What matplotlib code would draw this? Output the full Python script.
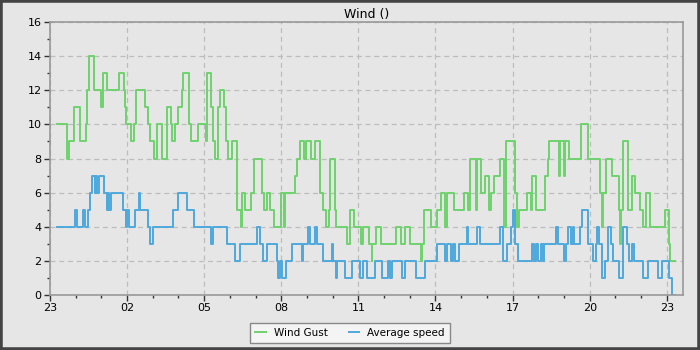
import matplotlib
matplotlib.use("Agg")
import matplotlib.pyplot as plt
import matplotlib.dates as mdates
from matplotlib.patches import Rectangle
import pandas as pd

# Hours after 23:00 at which each reading changes, with the new value (m/s)
gust_hours = [0.27, 0.66, 0.74, 0.93, 1.17, 1.40, 1.45, 1.51, 1.70, 1.98, 2.06, 2.23, 2.67, 2.87,
              2.91, 2.95, 3.16, 3.27, 3.33, 3.68, 3.81, 3.88, 4.05, 4.18, 4.35, 4.37, 4.55, 4.71,
              4.75, 4.86, 4.99, 5.12, 5.19, 5.41, 5.49, 5.77, 6.06, 6.11, 6.26, 6.34, 6.42, 6.53,
              6.61, 6.78, 6.85, 6.91, 7.09, 7.28, 7.43, 7.48, 7.59, 7.82, 7.95, 8.24, 8.31, 8.46,
              8.55, 8.70, 8.97, 9.10, 9.16, 9.55, 9.61, 9.74, 9.90, 9.95, 10.17, 10.32, 10.52,
              10.62, 10.74, 10.84, 10.91, 11.08, 11.13, 11.56, 11.69, 11.82, 12.11, 12.17, 12.41,
              12.52, 12.54, 12.67, 12.87, 13.48, 13.65, 13.81, 14.00, 14.45, 14.49, 14.55, 14.81,
              15.07, 15.20, 15.37, 15.46, 15.72, 16.11, 16.28, 16.34, 16.56, 16.63, 16.77, 16.94,
              17.09, 17.17, 17.29, 17.51, 17.68, 17.74, 18.11, 18.16, 18.24, 18.55, 18.72, 18.75,
              18.91, 19.25, 19.37, 19.43, 19.82, 19.86, 20.01, 20.05, 20.21, 20.66, 20.95, 21.40,
              21.47, 21.53, 21.63, 21.86, 22.15, 22.19, 22.23, 22.28, 22.48, 22.63, 22.76, 22.96,
              23.09, 23.19, 23.35, 23.93, 24.10, 24.12, 24.32]
gust_values = [10, 8, 9, 11, 9, 10, 12, 14, 12, 11, 13, 12, 13, 12,
               11, 10, 9, 10, 12, 11, 10, 9, 8, 10, 9, 8, 11, 10,
               9, 10, 11, 12, 13, 10, 9, 10, 9, 13, 11, 9, 8, 11,
               12, 11, 9, 8, 9, 5, 4, 6, 5, 6, 8, 6, 5, 6,
               5, 4, 6, 4, 6, 7, 8, 9, 8, 9, 8, 9, 6,
               5, 4, 5, 8, 5, 4, 3, 5, 4, 3, 4, 3,
               2, 3, 4, 3, 4, 3, 4, 3, 2, 3, 5, 4,
               5, 6, 4, 6, 5, 6, 5, 8, 5, 8, 6, 7,
               5, 6, 7, 8, 4, 9, 6, 4, 5, 6, 5, 7,
               5, 7, 8, 9, 7, 9, 7, 9, 8, 10, 8, 6,
               4, 6, 8, 7, 5, 3, 5, 9, 5, 7, 6, 5,
               4, 6, 4, 5, 3, 2, 2]

avg_hours = [0.26, 0.97, 1.04, 1.27, 1.36, 1.49, 1.56, 1.62, 1.75, 1.80, 1.83, 1.92, 2.10, 2.21,
             2.27, 2.31, 2.36, 2.83, 2.96, 3.01, 3.09, 3.31, 3.46, 3.50, 3.83, 3.89, 4.00, 4.80,
             4.99, 5.32, 5.60, 6.25, 6.35, 6.87, 7.20, 7.39, 8.04, 8.17, 8.30, 8.43, 8.82, 8.88,
             8.95, 9.01, 9.18, 9.40, 9.79, 9.86, 10.05, 10.12, 10.31, 10.38, 10.64, 10.96, 11.02,
             11.13, 11.18, 11.48, 11.74, 12.06, 12.17, 12.32, 12.65, 12.91, 13.16, 13.23, 13.29,
             13.68, 13.81, 14.25, 14.59, 15.07, 15.37, 15.46, 15.59, 15.68, 15.76, 15.91, 16.21,
             16.28, 16.63, 16.73, 17.51, 17.61, 17.77, 17.94, 18.00, 18.11, 18.20, 18.75, 18.85,
             18.91, 18.98, 19.10, 19.17, 19.24, 19.69, 19.75, 20.01, 20.08, 20.14, 20.27, 20.34,
             20.40, 20.62, 20.70, 20.95, 21.14, 21.25, 21.30, 21.37, 21.47, 21.60, 21.72, 21.82,
             21.92, 22.15, 22.28, 22.44, 22.54, 22.63, 22.72, 23.09, 23.28, 23.67, 23.80, 24.10,
             24.20, 24.32]
avg_values = [4, 5, 4, 5, 4, 5, 6, 7, 6, 7, 6, 7, 6, 5,
              6, 5, 6, 5, 4, 5, 4, 5, 6, 5, 4, 3, 4, 5,
              6, 5, 4, 3, 4, 3, 2, 3, 4, 3, 2, 3, 2, 1,
              2, 1, 2, 3, 2, 3, 4, 3, 4, 3, 2, 3, 2,
              1, 2, 1, 2, 1, 2, 1, 2, 1, 2, 1, 2,
              1, 2, 1, 2, 3, 2, 3, 2, 3, 2, 3, 4,
              3, 4, 3, 4, 2, 3, 4, 5, 3, 2, 3, 2,
              3, 2, 3, 2, 3, 4, 3, 2, 3, 4, 3, 4,
              3, 4, 5, 3, 2, 3, 4, 3, 1, 2, 4, 3,
              2, 1, 4, 3, 2, 3, 2, 1, 2, 1, 2, 1,
              0, 0]

start = pd.Timestamp("2024-03-10 23:00")
gust_t = start + pd.to_timedelta(gust_hours, unit="h")
avg_t = start + pd.to_timedelta(avg_hours, unit="h")

bg = "#e6e6e6"
fig = plt.figure(figsize=(7, 3.5), dpi=100, facecolor=bg)
ax = fig.add_axes([0.0714, 0.157, 0.9043, 0.780], facecolor=bg)

ax.step(gust_t, gust_values, where="post", color="#6dd36d", lw=1.4, label="Wind Gust")
ax.step(avg_t, avg_values, where="post", color="#4ea9dc", lw=1.4, label="Average speed")

ax.set_xlim(start, start + pd.Timedelta(hours=24.63))
ax.set_ylim(0, 16)
ax.set_yticks(range(0, 17, 2))
ax.set_yticks(range(1, 17, 2), minor=True)
ax.xaxis.set_major_locator(mdates.HourLocator(byhour=[2, 5, 8, 11, 14, 17, 20, 23]))
ax.xaxis.set_minor_locator(mdates.HourLocator())
ax.xaxis.set_major_formatter(mdates.DateFormatter("%H"))

ax.grid(True, which="major", color="#bdbdbd", linestyle=(0, (4, 3)), lw=0.9)
ax.tick_params(which="major", direction="out", length=4, width=1, color="#333333",
               labelsize=8, pad=2)
ax.tick_params(which="minor", direction="out", length=2, width=1, color="#333333")
for s in ax.spines.values():
    s.set_color("#999999")
    s.set_linewidth(1.2)

ax.set_title("Wind ()", fontsize=9, pad=3)

leg = fig.legend(loc="lower center", bbox_to_anchor=(0.5, 0.005), ncol=2, fontsize=7.5,
                 frameon=True, fancybox=False, edgecolor="#888888", facecolor="#f4f4f4",
                 handlelength=1.0, columnspacing=2.0, borderpad=0.5)
leg.get_frame().set_linewidth(1.0)
leg.get_frame().set_alpha(1)

fig.patches.append(Rectangle((0, 0), 1, 1, transform=fig.transFigure, fill=False,
                             edgecolor="#444444", lw=4))

fig.savefig("out.png", dpi=100, facecolor=bg)
